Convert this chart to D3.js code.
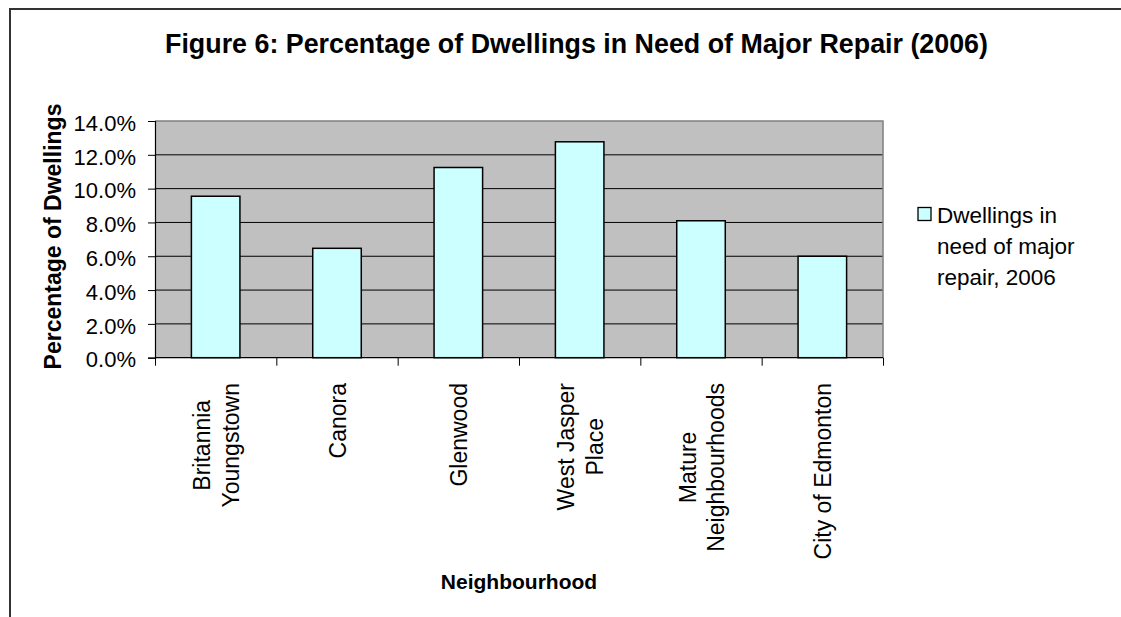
<!DOCTYPE html>
<html>
<head>
<meta charset="utf-8">
<script src="https://cdn.jsdelivr.net/npm/d3@7/dist/d3.min.js"></script>
<style>
  html, body { margin: 0; padding: 0; background: #fff; }
  svg { display: block; font-family: "Liberation Sans", Arial, sans-serif; }
</style>
</head>
<body>
<svg id="chart" width="1121" height="617"></svg>
<script>
// ---- data ----
const categories = [
  ["Britannia", "Youngstown"],
  ["Canora"],
  ["Glenwood"],
  ["West Jasper", "Place"],
  ["Mature", "Neighbourhoods"],
  ["City of Edmonton"]
];
const values = [0.0955, 0.0647, 0.1125, 0.1277, 0.0810, 0.0600];
const yTicks = [0, 0.02, 0.04, 0.06, 0.08, 0.10, 0.12, 0.14];
const legendLines = ["Dwellings in", "need of major", "repair, 2006"];
const titleText = "Figure 6: Percentage of Dwellings in Need of Major Repair (2006)";
const yTitle = "Percentage of Dwellings";
const xTitle = "Neighbourhood";

// ---- layout ----
const svg = d3.select("#chart");
const plot = { left: 155, right: 883, top: 121, bottom: 357.7 };

// chart border (top + left visible)
svg.append("path")
  .attr("d", "M10,617 L10,9 L1121,9")
  .attr("fill", "none").attr("stroke", "#333").attr("stroke-width", 2);

const x = d3.scaleBand()
  .domain(d3.range(categories.length))
  .range([plot.left, plot.right])
  .paddingInner(0.6).paddingOuter(0.3);
const y = d3.scaleLinear().domain([0, 0.14]).range([plot.bottom, plot.top]);

// plot background
svg.append("rect")
  .attr("x", plot.left).attr("y", plot.top)
  .attr("width", plot.right - plot.left).attr("height", plot.bottom - plot.top)
  .attr("fill", "#c0c0c0");

// gridlines
svg.append("g").selectAll("line").data(yTicks.filter(d => d > 0 && d < 0.14))
  .join("line")
  .attr("x1", plot.left).attr("x2", plot.right)
  .attr("y1", d => y(d)).attr("y2", d => y(d))
  .attr("stroke", "#000").attr("stroke-width", 1);

// top and right border of plot area
svg.append("path")
  .attr("d", `M${plot.left},${plot.top} L${plot.right},${plot.top} L${plot.right},${plot.bottom}`)
  .attr("fill", "none").attr("stroke", "#808080").attr("stroke-width", 1.5);

// bars
svg.append("g").selectAll("rect").data(values)
  .join("rect")
  .attr("x", (d, i) => x(i)).attr("width", x.bandwidth())
  .attr("y", d => y(d)).attr("height", d => y(0) - y(d))
  .attr("fill", "#ccffff").attr("stroke", "#000").attr("stroke-width", 1.5);

// y axis
const yAxis = d3.axisLeft(y).tickValues(yTicks).tickSize(7).tickPadding(12)
  .tickFormat(d3.format(".1%"));
const gy = svg.append("g").attr("transform", `translate(${plot.left},0)`).call(yAxis);
gy.select(".domain").attr("stroke", "#000").attr("stroke-width", 1.2);
gy.selectAll(".tick line").attr("stroke", "#000");
gy.selectAll(".tick text")
  .attr("font-family", "Liberation Sans, Arial, sans-serif")
  .attr("font-size", 22).attr("fill", "#000").attr("dy", "0.42em");

// x axis: ticks at category boundaries
const boundaries = d3.range(categories.length + 1);
const xb = d3.scaleLinear().domain([0, categories.length]).range([plot.left, plot.right]);
const xAxis = d3.axisBottom(xb).tickValues(boundaries).tickSize(8).tickFormat("");
const gx = svg.append("g").attr("transform", `translate(0,${plot.bottom})`).call(xAxis);
gx.select(".domain").attr("stroke", "#000").attr("stroke-width", 1.2).attr("d", `M${plot.left},0H${plot.right}`);
gx.selectAll(".tick line").attr("stroke", "#000");

// category labels (rotated)
const lineH = 28.5;
const labelTop = 383;
const labs = svg.append("g").selectAll("text").data(categories)
  .join("text")
  .attr("transform", (d, i) => `translate(${x(i) + x.bandwidth() / 2},0) rotate(-90)`)
  .attr("text-anchor", "middle")
  .attr("font-size", 23).attr("fill", "#000");
labs.each(function(lines) {
  const t = d3.select(this);
  lines.forEach((ln, j) => {
    t.append("tspan").text(ln)
      .attr("y", 9 + (j - (lines.length - 1) / 2) * lineH);
  });
  const maxW = d3.max(t.selectAll("tspan").nodes(), n => n.getComputedTextLength());
  t.selectAll("tspan").attr("x", -(labelTop + maxW / 2));
});

// title
const title = svg.append("text")
  .attr("x", 576.5).attr("y", 53)
  .attr("text-anchor", "middle").attr("font-weight", "bold")
  .attr("font-size", 24).attr("fill", "#000").text(titleText);
const tl = title.node().getComputedTextLength();
title.attr("font-size", 24 * 823 / tl);

// y title
svg.append("text")
  .attr("transform", "translate(61,236.5) rotate(-90)")
  .attr("text-anchor", "middle").attr("font-weight", "bold")
  .attr("font-size", 23).attr("fill", "#000").text(yTitle);

// x title
svg.append("text")
  .attr("x", 519).attr("y", 589)
  .attr("text-anchor", "middle").attr("font-weight", "bold")
  .attr("font-size", 21).attr("fill", "#000").text(xTitle);

// legend
const lg = svg.append("g");
lg.append("rect").attr("x", 918).attr("y", 207.5).attr("width", 13).attr("height", 13)
  .attr("fill", "#ccffff").attr("stroke", "#000").attr("stroke-width", 1.3);
lg.selectAll("text").data(legendLines).join("text")
  .attr("x", 937).attr("y", (d, i) => 223 + i * 31)
  .attr("font-size", 22.5).attr("fill", "#000").text(d => d);
</script>
</body>
</html>
